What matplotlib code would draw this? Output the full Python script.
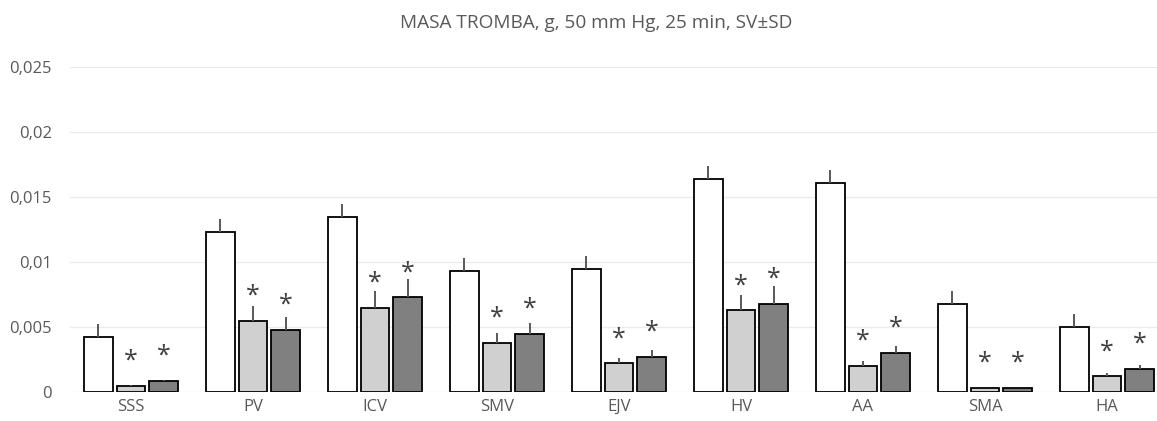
import numpy as np
import matplotlib.pyplot as plt

plt.rcParams['font.family'] = ['Open Sans', 'DejaVu Sans']

categories = ["SSS", "PV", "ICV", "SMV", "EJV", "HV", "AA", "SMA", "HA"]

# three series: control (white), light grey, dark grey
ctrl = [0.0042, 0.0123, 0.0135, 0.0093, 0.0095, 0.0164, 0.0161, 0.0068, 0.0050]
ctrl_sd = [0.0010, 0.0010, 0.0010, 0.0010, 0.0010, 0.0010, 0.0010, 0.0010, 0.0010]
light = [0.0005, 0.0055, 0.0065, 0.0038, 0.0022, 0.0063, 0.0020, 0.0003, 0.0012]
light_sd = [0.00005, 0.0011, 0.00125, 0.00075, 0.0004, 0.0012, 0.0004, 0.00002, 0.00025]
dark = [0.00085, 0.0048, 0.0073, 0.0045, 0.0027, 0.0068, 0.0030, 0.0003, 0.0018]
dark_sd = [0.0001, 0.00095, 0.0014, 0.00085, 0.00055, 0.0014, 0.00055, 0.00002, 0.0003]

fig = plt.figure(figsize=(11.57, 4.21), dpi=100)
ax = fig.add_axes([0.0605, 0.0689, 0.9395, 0.771])

x = np.arange(len(categories))
pitch = 0.268
width = 0.235
series = [(ctrl, ctrl_sd, "white", False),
          (light, light_sd, "#d0d0d0", True),
          (dark, dark_sd, "#808080", True)]

for i, (vals, sd, color, star) in enumerate(series):
    xs = x + (i - 1) * pitch
    ax.bar(xs, vals, width, color=color, edgecolor="black", linewidth=1.3, zorder=2)
    ax.errorbar(xs, vals, yerr=[np.zeros(len(vals)), sd], fmt="none",
                ecolor="#595959", elinewidth=1.4, capsize=0, zorder=3)
    if star:
        for xi, v in zip(xs, vals):
            ax.annotate("*", (xi, v), xytext=(0, 13), textcoords="offset points",
                        ha="center", va="baseline", fontsize=18, color="#404040")

ax.set_xlim(-0.5, 8.41)
ax.set_ylim(0, 0.025)
ax.set_yticks([0, 0.005, 0.01, 0.015, 0.02, 0.025])
ax.set_yticklabels(["0", "0,005", "0,01", "0,015", "0,02", "0,025"])
ax.set_xticks(x)
ax.set_xticklabels(categories)
ax.tick_params(axis="both", length=0, labelsize=12, labelcolor="#595959")
ax.tick_params(axis="y", pad=13)
ax.tick_params(axis="x", pad=5)
ax.grid(axis="y", color="#ebebeb", linewidth=1, zorder=0)
ax.set_axisbelow(True)
for s in ax.spines.values():
    s.set_visible(False)

fig.text(0.515, 0.945, "MASA TROMBA, g, 50 mm Hg, 25 min, SV±SD", ha="center", va="center",
         fontsize=13.7, color="#595959")

fig.savefig("out.png", dpi=100)
